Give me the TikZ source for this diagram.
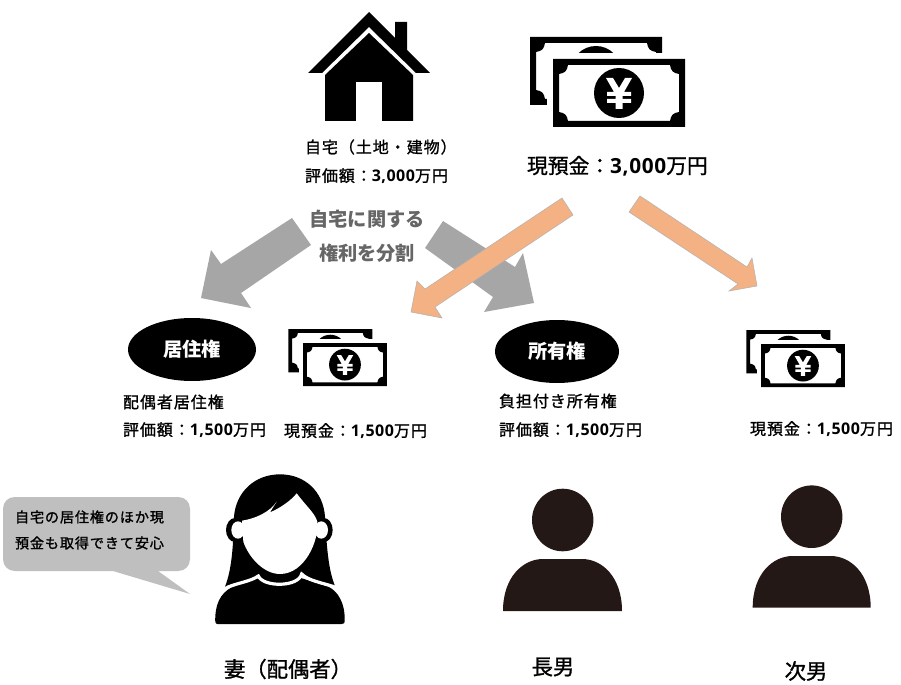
\documentclass[tikz,border=0pt]{standalone}
\usepackage{fontspec}
\setmainfont{Noto Sans CJK JP}
\newfontfamily\jpf{Noto Sans CJK JP}[FakeBold=1.2]
\newfontfamily\jpg{Noto Sans CJK JP}
\newfontfamily\jpsp{Noto Sans CJK JP}[FakeBold=1.2,LetterSpace=6]
\newfontfamily\latf{Open Sans}[LetterSpace=3]
\newcommand{\dgt}[1]{{\latf\bfseries #1}}
\newcommand{\fs}[1]{\fontsize{#1}{#1}\selectfont}
\definecolor{manc}{HTML}{231815}
\definecolor{orangearrow}{HTML}{F4B183}
\definecolor{greyarrow}{HTML}{A6A6A6}
\definecolor{bubble}{HTML}{BFBFBF}
\definecolor{graytext}{HTML}{666666}
\tikzset{
  txt/.style={anchor=west,inner sep=0pt,outer sep=0pt,font=\jpsp\fs{12}},
  txtbig/.style={anchor=west,inner sep=0pt,outer sep=0pt,font=\jpf\fs{15.6}},
  txtcap/.style={inner sep=0pt,outer sep=0pt,font=\jpf\fs{16}},
  txtgray/.style={inner sep=0pt,outer sep=0pt,text=graytext,font=\jpg\bfseries\fs{14.4}},
  txtoval/.style={inner sep=0pt,outer sep=0pt,text=white,font=\jpg\bfseries\fs{14.4}},
  txtsay/.style={anchor=west,inner sep=0pt,outer sep=0pt,font=\jpsp\fs{10.6}},
  oval/.style={fill=black,draw=none,shape=ellipse},
  orangeshape/.style={fill=orangearrow,draw=black!30,line width=.4pt},
  greyshape/.style={fill=greyarrow,draw=none},
}
\usetikzlibrary{shapes.geometric}
\newcommand{\billframe}{%
  (0,0) rectangle (132,68)
  (15,6) -- (117,6) .. controls (118,12) and (120,14) .. (126,15) -- (126,53)
  .. controls (120,54) and (118,56) .. (117,62) -- (15,62)
  .. controls (14,56) and (12,54) .. (6,53) -- (6,15)
  .. controls (12,14) and (14,12) .. (15,6) -- cycle}
\newcommand{\yenbill}[3]{%
  \begin{scope}[shift={(#1,#2)},scale=#3]
    \begin{scope}[shift={(-23,-22)}]
      \fill[black,even odd rule] \billframe;
      \fill[black] (66,34) circle (25);
    \end{scope}
    \fill[white] (-6,-6) rectangle (138,74);
    \fill[black,even odd rule] \billframe;
    \fill[black] (66,34) circle (25);
    \fill[white] (53,19) -- (60,19) -- (66,29) -- (72,19) -- (79,19) -- (71,33) -- (78,33) -- (78,37)
      -- (69.5,37) -- (69.5,40) -- (78,40) -- (78,44) -- (69.5,44) -- (69.5,50) -- (62.5,50) -- (62.5,44)
      -- (54,44) -- (54,40) -- (62.5,40) -- (62.5,37) -- (54,37) -- (54,33) -- (61,33) -- cycle;
  \end{scope}}
\newcommand{\person}[6]{% head x,y ; body left,right,top,bottom
  \fill[manc] (#1,#2) ellipse (30.7 and 31.3);
  \fill[manc] (#3,#6) .. controls (#3,#5+18) and ({#3+20},#5) .. ({#3+40},#5)
    -- ({#4-40},#5) .. controls ({#4-20},#5) and (#4,#5+18) .. (#4,#6) -- cycle;}
\begin{document}
\begin{tikzpicture}[x=.75pt,y=-.75pt]
\useasboundingbox (0,0) rectangle (901,685);
\fill[white] (0,0) rectangle (901,685);

% house
\fill[black] (308,73) -- (369,12) -- (395,38) -- (395,22) -- (407,22) -- (407,50) -- (430,73)
  -- (416,73) -- (369,27) -- (322,73) -- cycle;
\fill[black] (369,33) -- (413,75) -- (413,121) -- (325,121) -- (325,75) -- cycle;
\fill[white] (356,82) rectangle (382,121);

% money
\yenbill{553}{59}{1}
\yenbill{303}{343}{.636}
\yenbill{761}{344}{.636}

% grey arrows
\fill[greyshape] (292,218) -- (311,245) -- (241,293) -- (251,308) -- (201,298) -- (211,250) -- (221,264) -- cycle;
\fill[greyshape] (443,221) -- (425,248) -- (493,297) -- (484,312) -- (534,303) -- (523,253) -- (515,267) -- cycle;
% orange arrows
\draw[orangeshape] (562,198) -- (573,215) -- (435,307) -- (442,318) -- (411,312) -- (417,281) -- (425,289) -- cycle;
\draw[orangeshape] (640,196) -- (629,212) -- (738,284) -- (729,291) -- (757,286) -- (752,258) -- (747,267) -- cycle;

% ovals
\node[oval,minimum width=96pt,minimum height=47.25pt] (ovalA) at (192,349.5) {};
\node[txtoval] (ovalAt) at (192,349) {居住権};
\node[oval,minimum width=93pt,minimum height=47.25pt] (ovalB) at (557,351.5) {};
\node[txtoval] (ovalBt) at (557,351) {所有権};

% texts
\node[txt] (t1) at (305,147) {自宅（土地・建物）};
\node[txt] (t2) at (305,176) {評価額：\dgt{3,000}万円};
\node[txtbig] (t3) at (527,166) {現預金：\dgt{3,000}万円};
\node[txtgray] (t4) at (367,219) {自宅に関する};
\node[txtgray] (t5) at (367,253) {権利を分割};
\node[txt] (t6) at (123,402) {配偶者居住権};
\node[txt] (t7) at (123,430) {評価額：\dgt{1,500}万円};
\node[txt] (t8) at (284,431) {現預金：\dgt{1,500}万円};
\node[txt] (t9) at (499,401) {負担付き所有権};
\node[txt] (t10) at (499,430) {評価額：\dgt{1,500}万円};
\node[txt] (t11) at (750,429) {現預金：\dgt{1,500}万円};

% callout
\fill[bubble] (15,497) -- (178,497) .. controls (185,497) and (190,502) .. (190,509)
  -- (190,559) .. controls (190,566) and (185,571) .. (178,571)
  -- (158,571) -- (190,594) -- (113,571) -- (15,571)
  .. controls (8,571) and (3,566) .. (3,559) -- (3,509) .. controls (3,502) and (8,497) .. (15,497) -- cycle;
\node[txtsay] (s1) at (15,517) {自宅の居住権のほか現};
\node[txtsay] (s2) at (15,543) {預金も取得できて安心};

% woman
\begin{scope}[shift={(0,450)},x=.25pt,y=-.25pt]
  % body
  \fill[black] (652,522) .. controls (645,522) and (645,512) .. (646,500)
    .. controls (648,450) and (670,420) .. (710,405) -- (790,380) -- (890,380) -- (985,410)
    .. controls (1015,425) and (1035,460) .. (1034,510) .. controls (1034,520) and (1032,522) .. (1025,522) -- cycle;
  % hair
  \fill[black] (840,73) .. controls (915,73) and (970,125) .. (975,200)
    .. controls (980,290) and (985,360) .. (1005,408)
    .. controls (965,395) and (925,390) .. (905,372)
    .. controls (895,400) and (790,410) .. (775,378)
    .. controls (750,392) and (710,395) .. (675,410)
    .. controls (695,360) and (700,290) .. (702,200)
    .. controls (708,125) and (765,73) .. (840,73) -- cycle;
  % ears
  \fill[black] (705,240) ellipse (27 and 36);
  \fill[black] (972,240) ellipse (26 and 36);
  \fill[white] (714,240) ellipse (20 and 26);
  \fill[white] (964,240) ellipse (20 and 26);
  % collar
  \draw[white,line width=2.4pt,line cap=round] (682,412)
    .. controls (715,398) and (750,395) .. (775,378)
    .. controls (790,412) and (895,412) .. (905,372)
    .. controls (925,392) and (965,398) .. (1005,411);
  % face
  \fill[white] (726,212) .. controls (770,205) and (810,185) .. (830,155)
    -- (810,187) .. controls (840,175) and (875,150) .. (890,130)
    .. controls (920,170) and (945,190) .. (952,215)
    .. controls (958,270) and (915,372) .. (840,372)
    .. controls (790,372) and (745,320) .. (730,275) -- cycle;
\end{scope}
\node[txtcap,anchor=west] (w1) at (224,669) {妻（配偶者）};

% men
\person{562.7}{520}{503}{622}{559}{611}
\person{811.7}{516.7}{752.7}{870.7}{556}{607.7}
\node[txtcap] (m1) at (553,667) {長男};
\node[txtcap] (m2) at (806,671) {次男};
\end{tikzpicture}
\end{document}
